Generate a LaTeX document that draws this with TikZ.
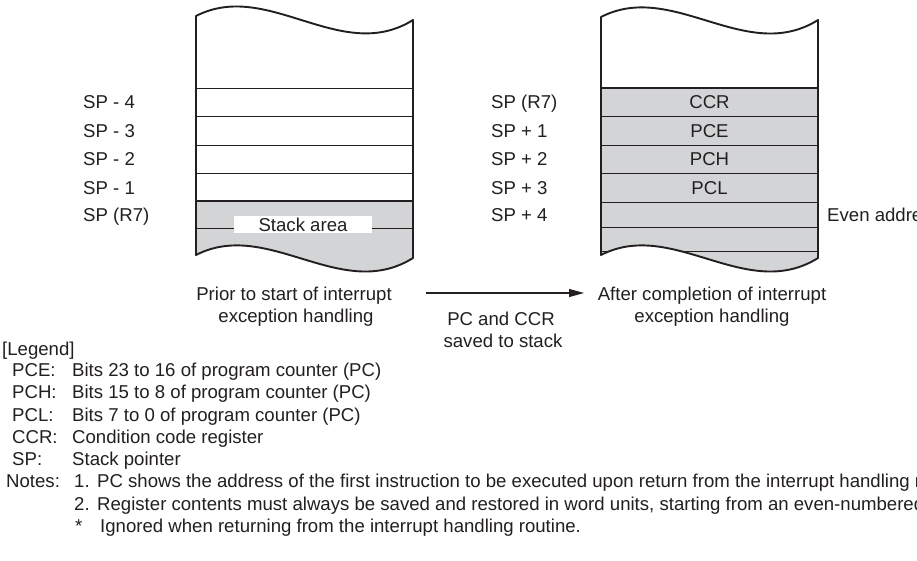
\documentclass[tikz,border=0pt]{standalone}
\usepackage{fontspec}
\setmainfont{Liberation Sans}
\usetikzlibrary{arrows.meta}
\definecolor{ink}{RGB}{35,31,32}
\definecolor{stackgray}{RGB}{211,212,214}
\begin{document}
\begin{tikzpicture}[x=1pt,y=-1pt,
  lbl/.style={font=\fontsize{18.6}{22}\selectfont, text=ink, inner sep=0pt,
              text height=13.3pt, text depth=0pt},
  outline/.style={draw=ink, line width=1.9pt, line join=round},
  rowline/.style={draw=ink, line width=0.9pt},
  boldline/.style={draw=ink, line width=1.9pt},
  flow/.style={draw=ink, line width=1.1pt, -{Triangle[length=15pt,width=8pt]}}]

\clip (0,0) rectangle (917,560);
\fill[white] (0,0) rectangle (917,560);

% ---------- left stack: before interrupt ----------
\def\leftbox{(196,16) .. controls +(72,-37) and +(-72,45) .. (413,20) -- (413,258)
  .. controls +(-72,45) and +(72,-37) .. (196,255) -- cycle}
\fill[stackgray] (196,201) -- (413,201) -- (413,258)
  .. controls +(-72,45) and +(72,-37) .. (196,255) -- cycle;
\begin{scope}
  \clip \leftbox;
  \foreach \yy in {88,116.5,145,173.5,228} \draw[rowline] (190,\yy) -- (420,\yy);
  \draw[boldline] (190,201) -- (420,201);
\end{scope}
\node[lbl, fill=white, minimum width=138pt, minimum height=17pt] (stackarea) at (303,224.5) {Stack area};
\draw[outline] \leftbox;

% ---------- right stack: after interrupt ----------
\def\rightbox{(601,17) .. controls +(72,-37) and +(-72,45) .. (818,20) -- (818,258)
  .. controls +(-72,45) and +(72,-37) .. (601,255) -- cycle}
\fill[stackgray] (601,88) -- (818,88) -- (818,258)
  .. controls +(-72,45) and +(72,-37) .. (601,255) -- cycle;
\begin{scope}
  \clip \rightbox;
  \foreach \yy in {116.5,145,173.5,202,227.5,251} \draw[rowline] (595,\yy) -- (825,\yy);
  \draw[boldline] (595,88) -- (825,88);
\end{scope}
\draw[outline] \rightbox;

\node[lbl] (ccr) at (709.5,102) {CCR};
\node[lbl] (pce) at (709.5,130.5) {PCE};
\node[lbl] (pch) at (709.5,159) {PCH};
\node[lbl] (pcl) at (709.5,187.5) {PCL};

% ---------- address labels ----------
\node[lbl, anchor=west] (lm4) at (83,102) {SP - 4};
\node[lbl, anchor=west] (lm3) at (83,130.5) {SP - 3};
\node[lbl, anchor=west] (lm2) at (83,159) {SP - 2};
\node[lbl, anchor=west] (lm1) at (83,187.5) {SP - 1};
\node[lbl, anchor=west] (lsp) at (83,215) {SP (R7)};

\node[lbl, anchor=west] (rsp) at (491,102) {SP (R7)};
\node[lbl, anchor=west] (rp1) at (491,130.5) {SP + 1};
\node[lbl, anchor=west] (rp2) at (491,159) {SP + 2};
\node[lbl, anchor=west] (rp3) at (491,187.5) {SP + 3};
\node[lbl, anchor=west] (rp4) at (491,215) {SP + 4};
\node[lbl, anchor=west] (even) at (827,215) {Even address};

% ---------- captions and transition ----------
\node[lbl] (prior1) at (294,293.7) {Prior to start of interrupt};
\node[lbl] (prior2) at (296,315.7) {exception handling};
\node[lbl] (after1) at (712,293.7) {After completion of interrupt};
\node[lbl] (after2) at (712,315.7) {exception handling};
\node[lbl] (saved1) at (501,319) {PC and CCR};
\node[lbl] (saved2) at (503,341) {saved to stack};
\coordinate (arrowfrom) at (426,293);
\coordinate (arrowto) at (584,293);
\draw[flow] (arrowfrom) -- (arrowto);

% ---------- legend and notes ----------
\node[lbl, anchor=west] (legend) at (2,349) {[Legend]};
\node[lbl, anchor=west] (kpce) at (12,370) {PCE:};
\node[lbl, anchor=west] (kpch) at (12,392) {PCH:};
\node[lbl, anchor=west] (kpcl) at (12,414.5) {PCL:};
\node[lbl, anchor=west] (kccr) at (12,436.5) {CCR:};
\node[lbl, anchor=west] (ksp)  at (12,459) {SP:};
\node[lbl, anchor=west] (vpce) at (72,370) {Bits 23 to 16 of program counter (PC)};
\node[lbl, anchor=west] (vpch) at (72,392) {Bits 15 to 8 of program counter (PC)};
\node[lbl, anchor=west] (vpcl) at (72,414.5) {Bits 7 to 0 of program counter (PC)};
\node[lbl, anchor=west] (vccr) at (72,436.5) {Condition code register};
\node[lbl, anchor=west] (vsp)  at (72,459) {Stack pointer};

\node[lbl, anchor=west] (notes) at (6,481) {Notes:};
\node[lbl, anchor=west] (n1) at (74,481) {1.};
\node[lbl, anchor=west] (t1) at (97,481) {PC shows the address of the first instruction to be executed upon return from the interrupt handling routine.};
\node[lbl, anchor=west] (n2) at (74,503.5) {2.};
\node[lbl, anchor=west] (t2) at (97,503.5) {Register contents must always be saved and restored in word units, starting from an even-numbered address.};
\node[lbl, anchor=west] (star) at (75,525.5) {*};
\node[lbl, anchor=west] (t3) at (100,525.5) {Ignored when returning from the interrupt handling routine.};
\end{tikzpicture}
\end{document}
